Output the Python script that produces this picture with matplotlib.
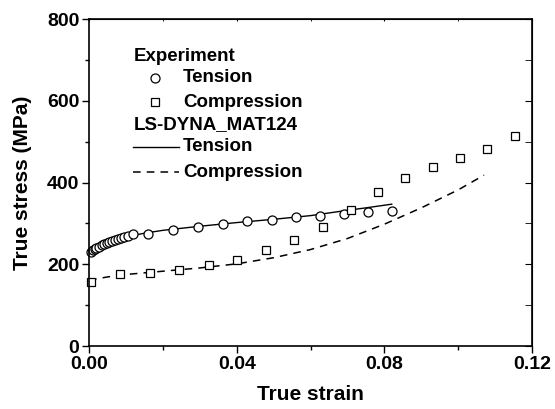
import matplotlib
matplotlib.use('Agg')
import matplotlib.pyplot as plt
from matplotlib.ticker import MultipleLocator, FormatStrFormatter
from matplotlib.lines import Line2D

plt.rcParams['font.family'] = ['Liberation Sans', 'DejaVu Sans']
plt.rcParams['font.weight'] = 'bold'

# experiment, tension
exp_t_strain = [0.0005, 0.0010, 0.0015, 0.0020, 0.0027, 0.0034, 0.0041, 0.0048,
                0.0055, 0.0062, 0.0070, 0.0078, 0.0086, 0.0095, 0.0105, 0.0120,
                0.0159, 0.0228, 0.0296, 0.0362, 0.0429, 0.0497, 0.0562, 0.0626,
                0.0690, 0.0757, 0.0820]
exp_t_stress = [230, 234, 237, 240, 243, 246, 249, 252,
                255, 257, 260, 263, 265, 267, 270, 273,
                275, 285, 292, 298, 305, 308, 316, 319,
                323, 328, 331]

# experiment, compression
exp_c_strain = [0.0005, 0.0084, 0.0165, 0.0244, 0.0325, 0.0400, 0.0480, 0.0555,
                0.0633, 0.0709, 0.0784, 0.0856, 0.0933, 0.1005, 0.1079, 0.1153]
exp_c_stress = [156, 176, 179, 186, 197, 210, 235, 259,
                292, 333, 376, 412, 438, 460, 483, 514]

# LS-DYNA MAT124 model
mod_t_strain = [0.0, 0.002, 0.005, 0.010, 0.015, 0.020, 0.030, 0.040, 0.050,
                0.060, 0.070, 0.075, 0.082]
mod_t_stress = [227, 239, 252, 267, 276, 283, 293, 302, 310, 319, 332, 338, 347]

mod_c_strain = [0.0, 0.005, 0.010, 0.020, 0.030, 0.040, 0.050, 0.060, 0.070,
                0.080, 0.090, 0.100, 0.107]
mod_c_stress = [161, 169, 175, 183, 191, 201, 216, 236, 263, 298, 338, 382, 418]

fig = plt.figure(figsize=(5.55, 4.09), dpi=100)
ax = fig.add_axes([0.1604, 0.154, 0.7982, 0.7995])

ax.plot(mod_t_strain, mod_t_stress, '-', color='black', lw=1.0)
ax.plot(mod_c_strain, mod_c_stress, '--', color='black', lw=1.1, dashes=(5, 4))
ax.plot(exp_t_strain, exp_t_stress, 'o', mfc='white', mec='black', ms=6.5, mew=0.9,
        linestyle='none', clip_on=False)
ax.plot(exp_c_strain, exp_c_stress, 's', mfc='white', mec='black', ms=5.3, mew=0.9,
        linestyle='none', clip_on=False)

ax.set_xlim(0, 0.12)
ax.set_ylim(0, 800)
ax.xaxis.set_major_locator(MultipleLocator(0.04))
ax.xaxis.set_minor_locator(MultipleLocator(0.02))
ax.yaxis.set_major_locator(MultipleLocator(200))
ax.yaxis.set_minor_locator(MultipleLocator(100))
ax.xaxis.set_major_formatter(FormatStrFormatter('%.2f'))

ax.tick_params(which='both', direction='out', top=False, right=False,
               labelsize=14, width=1.0)
ax.tick_params(which='major', length=5, pad=2)
ax.tick_params(which='minor', length=3)
for lab in ax.get_xticklabels() + ax.get_yticklabels():
    lab.set_fontweight('bold')

# inward ticks on top and right axes
ax_r = ax.secondary_yaxis('right')
ax_r.yaxis.set_major_locator(MultipleLocator(200))
ax_r.yaxis.set_minor_locator(MultipleLocator(100))
ax_r.tick_params(which='both', direction='in', length=5, labelright=False)
ax_t = ax.secondary_xaxis('top')
ax_t.xaxis.set_major_locator(MultipleLocator(0.04))
ax_t.xaxis.set_minor_locator(MultipleLocator(0.02))
ax_t.tick_params(which='both', direction='in', length=1.5, labeltop=False)

for sp in ax.spines.values():
    sp.set_linewidth(1.2)

xl = ax.set_xlabel('True strain', fontsize=15, fontweight='bold')
xl.set_va('center')
ax.xaxis.set_label_coords(0.5, -0.148)
yl = ax.set_ylabel('True stress (MPa)', fontsize=15, fontweight='bold')
yl.set_va('center')
ax.yaxis.set_label_coords(-0.151, 0.5)

# legend drawn by hand
tr = ax.transAxes
fs = 13.5
x_head = 0.10
x_mark = 0.15
x_text = 0.212
rows = [0.884, 0.82, 0.746, 0.676, 0.609, 0.532]
ax.text(x_head, rows[0], 'Experiment', transform=tr, fontsize=fs, va='center', fontweight='bold')
ax.add_line(Line2D([x_mark], [rows[1]], transform=tr, marker='o', mfc='white', mec='black',
                   ms=6.5, mew=0.9))
ax.text(x_text, rows[1], 'Tension', transform=tr, fontsize=fs, va='center', fontweight='bold')
ax.add_line(Line2D([x_mark], [rows[2]], transform=tr, marker='s', mfc='white', mec='black',
                   ms=5.3, mew=0.9))
ax.text(x_text, rows[2], 'Compression', transform=tr, fontsize=fs, va='center', fontweight='bold')
ax.text(x_head, rows[3], 'LS-DYNA_MAT124', transform=tr, fontsize=fs, va='center', fontweight='bold')
ax.add_line(Line2D([x_head, 0.202], [rows[4], rows[4]], transform=tr, color='black', lw=1.0))
ax.text(x_text, rows[4], 'Tension', transform=tr, fontsize=fs, va='center', fontweight='bold')
ax.add_line(Line2D([x_head, 0.202], [rows[5], rows[5]], transform=tr, color='black', lw=1.1,
                   linestyle='--', dashes=(5, 4)))
ax.text(x_text, rows[5], 'Compression', transform=tr, fontsize=fs, va='center', fontweight='bold')

fig.savefig('out.png', dpi=100)
